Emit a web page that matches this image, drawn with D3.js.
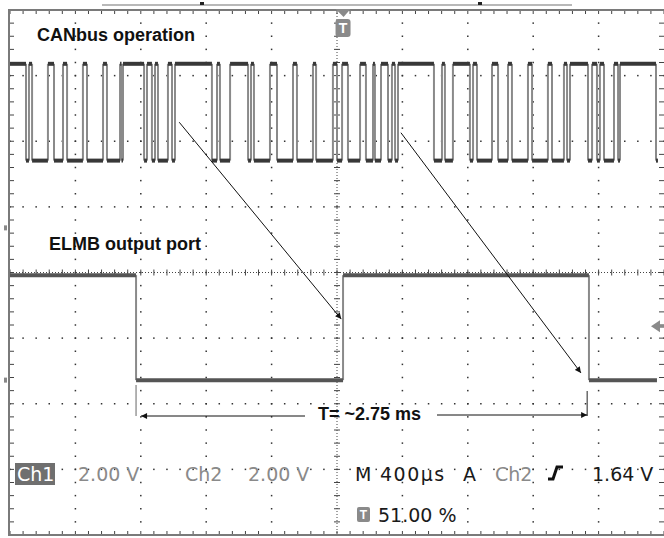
<!DOCTYPE html>
<html>
<head>
<meta charset="utf-8">
<script src="https://cdn.jsdelivr.net/npm/d3@7/dist/d3.min.js"></script>
<style>
  body { margin: 0; background: #fff; }
  svg { display: block; }
</style>
</head>
<body>
<script>
// scope settings: 400 us/div over 10 divisions, 8 vertical divisions
var timeTicks = d3.range(0, 4001, 400);
var divTicks = d3.range(-4, 5, 1);
var voltsPerDiv = 2.0;
var ch1Ground = 0.68;   // divisions above centre
var ch2Ground = -1.64;
var trigTime = 2040;    // 51 % of record
var trigLevel = 1.64;   // volts on Ch2

// Ch1 : CANbus, transition times in us (starts high)
var canEdges = [98, 116, 135, 232, 269, 324, 349, 446, 471, 569, 593, 673, 682, 691,
  820, 838, 868, 887, 905, 966, 991, 1009, 1235, 1266, 1284, 1346, 1456, 1474, 1492,
  1590, 1633, 1731, 1755, 1853, 1872, 1975, 2000, 2031, 2067, 2141, 2177, 2220, 2232,
  2269, 2312, 2336, 2355, 2373, 2593, 2642, 2660, 2709, 2813, 2832, 2856, 2948, 2985,
  3046, 3070, 3168, 3193, 3290, 3315, 3388, 3407, 3425, 3535, 3560, 3590, 3608, 3633,
  3694, 3719, 3731, 3951];
var canLevels = [5.0, 2.05];   // high, low (V)
var canSpan = [0, 3963];

// Ch2 : ELMB output port (starts high)
var elmbEdges = [771, 2037, 3541];
var elmbLevels = [3.2, 0];
var elmbSpan = [0, 3957];

// period measurement
var measureTimes = [771, 3530];
var measureLabel = "T= ~2.75 ms";

var width = 664, height = 538;

var x = d3.scaleLinear().domain([0, 4000]).range([10, 664]);
var y = d3.scaleLinear().domain([-4, 4]).range([535, 10]);

function yCh(v, ground) { return y(ground + v / voltsPerDiv); }

function stepTrace(edges, span, levels) {
  var pts = [span[0]].concat(edges, [span[1]]);
  var flats = [], risers = [];
  var high = true;
  for (var i = 0; i < pts.length - 1; i++) {
    flats.push({a: pts[i], b: pts[i + 1], v: high ? levels[0] : levels[1]});
    if (i < edges.length) { risers.push(pts[i + 1]); high = !high; }
  }
  return {flats: flats, risers: risers};
}

var svg = d3.select("body").append("svg")
    .attr("width", width)
    .attr("height", height);

// ---- graticule ----
var minorX = d3.range(0, 4001, 80);
var minorY = d3.range(-4, 4.001, 0.2);
var grid = svg.append("g").attr("class", "grid");

timeTicks.filter(function(t) { return t > 0 && t < 4000 && t != 2000; }).forEach(function(t) {
  grid.selectAll(null).data(minorY).enter().append("rect")
      .attr("x", x(t) - 0.75).attr("y", function(d) { return y(d) - 0.75; })
      .attr("width", 1.5).attr("height", 1.5).attr("fill", "#333");
});
divTicks.filter(function(d) { return d > -4 && d < 4 && d != 0; }).forEach(function(dv) {
  grid.selectAll(null).data(minorX).enter().append("rect")
      .attr("x", function(d) { return x(d) - 0.75; }).attr("y", y(dv) - 0.75)
      .attr("width", 1.5).attr("height", 1.5).attr("fill", "#333");
});

// centre cross with ticks
grid.append("line").attr("x1", x(0)).attr("x2", x(4000)).attr("y1", y(0)).attr("y2", y(0))
    .attr("stroke", "#444").attr("stroke-dasharray", "1,2");
grid.append("line").attr("x1", x(2000)).attr("x2", x(2000)).attr("y1", y(4)).attr("y2", y(-4))
    .attr("stroke", "#444").attr("stroke-dasharray", "1,2");
grid.selectAll(null).data(minorX).enter().append("line")
    .attr("x1", function(d) { return x(d); }).attr("x2", function(d) { return x(d); })
    .attr("y1", y(0) - 3).attr("y2", y(0) + 3)
    .attr("stroke", "#444");
grid.selectAll(null).data(minorY).enter().append("line")
    .attr("x1", x(2000) - 3).attr("x2", x(2000) + 3)
    .attr("y1", function(d) { return y(d); }).attr("y2", function(d) { return y(d); })
    .attr("stroke", "#444");

// border ticks
grid.selectAll(null).data(minorX).enter().append("line")
    .attr("x1", function(d) { return x(d); }).attr("x2", function(d) { return x(d); })
    .attr("y1", y(4)).attr("y2", y(4) + 4).attr("stroke", "#444");
grid.selectAll(null).data(minorX).enter().append("line")
    .attr("x1", function(d) { return x(d); }).attr("x2", function(d) { return x(d); })
    .attr("y1", y(-4)).attr("y2", y(-4) - 4).attr("stroke", "#444");
grid.selectAll(null).data(minorY).enter().append("line")
    .attr("x1", x(0)).attr("x2", x(0) + 4)
    .attr("y1", function(d) { return y(d); }).attr("y2", function(d) { return y(d); })
    .attr("stroke", "#444");
grid.selectAll(null).data(minorY).enter().append("line")
    .attr("x1", width - 5).attr("x2", width)
    .attr("y1", function(d) { return y(d); }).attr("y2", function(d) { return y(d); })
    .attr("stroke", "#444");

// frame (left, top, bottom)
grid.append("path")
    .attr("d", "M" + (width) + "," + y(4) + "H" + (x(0) - 1) + "V" + y(-4) + "H" + width)
    .attr("fill", "none").attr("stroke", "#7a7a7a").attr("stroke-width", 2);

// record bar on top
svg.append("line").attr("x1", 102).attr("x2", 572).attr("y1", 5).attr("y2", 5)
    .attr("stroke", "#a0a0a0").attr("stroke-width", 1.5);
svg.append("rect").attr("x", 200).attr("y", 2).attr("width", 4).attr("height", 3).attr("fill", "#222");
svg.append("rect").attr("x", 478).attr("y", 2).attr("width", 4).attr("height", 3).attr("fill", "#222");

// ---- traces ----
function drawTrace(data, ground, levels, flatColor) {
  var g = svg.append("g");
  g.selectAll(".riser").data(data.risers).enter().append("line")
      .attr("x1", function(d) { return x(d); }).attr("x2", function(d) { return x(d); })
      .attr("y1", yCh(levels[0], ground))
      .attr("y2", yCh(levels[1], ground))
      .attr("stroke", "#8a8a8a").attr("stroke-width", 2);
  g.selectAll(".flat").data(data.flats).enter().append("line")
      .attr("x1", function(d) { return x(d.a); }).attr("x2", function(d) { return x(d.b); })
      .attr("y1", function(d) { return yCh(d.v, ground); })
      .attr("y2", function(d) { return yCh(d.v, ground); })
      .attr("stroke", flatColor).attr("stroke-width", 4);
  return g;
}

drawTrace(stepTrace(canEdges, canSpan, canLevels), ch1Ground, canLevels, "#383838");
drawTrace(stepTrace(elmbEdges, elmbSpan, elmbLevels), ch2Ground, elmbLevels, "#555");

// ground markers at left
[ch1Ground, ch2Ground].forEach(function(gd) {
  svg.append("rect").attr("x", 4).attr("y", y(gd) - 2.5).attr("width", 3).attr("height", 5).attr("fill", "#888");
});

// trigger level marker at right
var ty = yCh(trigLevel, ch2Ground);
svg.append("path")
    .attr("d", "M651," + ty + "L660," + (ty - 6) + "L660," + (ty + 6) + "Z")
    .attr("fill", "#8a8a8a");
svg.append("rect").attr("x", 658).attr("y", ty - 1.5).attr("width", 6).attr("height", 3).attr("fill", "#8a8a8a");

// trigger position marker at top
var tx = x(trigTime);
svg.append("path")
    .attr("d", "M" + (tx - 8) + ",9L" + (tx + 7) + ",9L" + tx + ",17Z")
    .attr("fill", "#8a8a8a");
svg.append("rect").attr("x", tx - 8).attr("y", 19).attr("width", 15).attr("height", 18).attr("rx", 3)
    .attr("fill", "#8a8a8a");
svg.append("text").attr("x", tx - 0.5).attr("y", 33).attr("text-anchor", "middle")
    .attr("font-family", "Liberation Sans, Arial").attr("font-weight", "bold").attr("font-size", 14)
    .attr("fill", "#fff").text("T");

// ---- annotations ----
var defs = svg.append("defs");
defs.append("marker").attr("id", "ah").attr("viewBox", "0 0 10 10").attr("refX", 10).attr("refY", 5)
    .attr("markerWidth", 8).attr("markerHeight", 6).attr("orient", "auto")
    .attr("markerUnits", "userSpaceOnUse")
  .append("path").attr("d", "M0,0L10,5L0,10Z").attr("fill", "#111");

var arrows = [
  {t0: 1035, d0: 2.29, t1: 2026, d1: -0.71},
  {t0: 2391, d0: 2.13, t1: 3492, d1: -1.53}
];
svg.selectAll(".ann").data(arrows).enter().append("line")
    .attr("x1", function(d) { return x(d.t0); }).attr("y1", function(d) { return y(d.d0); })
    .attr("x2", function(d) { return x(d.t1); }).attr("y2", function(d) { return y(d.d1); })
    .attr("stroke", "#111").attr("stroke-width", 1).attr("marker-end", "url(#ah)");

// measurement bracket
var my = 416;
svg.append("line").attr("x1", x(measureTimes[0])).attr("x2", x(measureTimes[0]))
    .attr("y1", 385).attr("y2", my).attr("stroke", "#999").attr("stroke-width", 1.5);
svg.append("line").attr("x1", x(measureTimes[1])).attr("x2", x(measureTimes[1]))
    .attr("y1", 391).attr("y2", my).attr("stroke", "#222").attr("stroke-width", 1);
svg.append("line").attr("x1", 305).attr("x2", x(measureTimes[0]) + 5)
    .attr("y1", my).attr("y2", my).attr("stroke", "#111").attr("marker-end", "url(#ah)");
svg.append("line").attr("x1", 437).attr("x2", x(measureTimes[1]))
    .attr("y1", my - 1).attr("y2", my - 1).attr("stroke", "#111").attr("marker-end", "url(#ah)");

var bold = "Liberation Sans, Arial, sans-serif";
svg.append("text").attr("x", 318).attr("y", 420)
    .attr("font-family", bold).attr("font-weight", "bold").attr("font-size", 18)
    .attr("fill", "#111").text(measureLabel);
svg.append("text").attr("x", 37).attr("y", 41)
    .attr("font-family", bold).attr("font-weight", "bold").attr("font-size", 18)
    .attr("fill", "#111").text("CANbus operation");
svg.append("text").attr("x", 49).attr("y", 250)
    .attr("font-family", bold).attr("font-weight", "bold").attr("font-size", 18)
    .attr("fill", "#111").text("ELMB output port");

// ---- status readout ----
var mono = "DejaVu Sans, sans-serif";
var readout = [
  {x: 17, y: 481, s: "Ch1", c: "#fff"},
  {x: 78, y: 481, s: "2.00 V", c: "#8a8a8a"},
  {x: 185, y: 481, s: "Ch2", c: "#8a8a8a"},
  {x: 248, y: 481, s: "2.00 V", c: "#8a8a8a"},
  {x: 355, y: 481, s: "M", c: "#1a1a1a"},
  {x: 380, y: 481, s: "400\u00b5s", c: "#1a1a1a", ls: 1.5},
  {x: 463, y: 481, s: "A", c: "#1a1a1a"},
  {x: 495, y: 481, s: "Ch2", c: "#8a8a8a"},
  {x: 592, y: 481, s: "1.64 V", c: "#1a1a1a"},
  {x: 378, y: 522, s: "51.00 %", c: "#1a1a1a"}
];
svg.append("rect").attr("x", 15).attr("y", 463).attr("width", 40).attr("height", 22).attr("fill", "#6f6f6f");
svg.selectAll(".ro").data(readout).enter().append("text")
    .attr("x", function(d) { return d.x; }).attr("y", function(d) { return d.y; })
    .attr("font-family", mono).attr("font-size", 19)
    .attr("letter-spacing", function(d) { return d.ls || 0; })
    .attr("fill", function(d) { return d.c; })
    .text(function(d) { return d.s; });

// rising slope symbol
svg.append("path").attr("d", "M548,479H553L557,467H563")
    .attr("fill", "none").attr("stroke", "#111").attr("stroke-width", 3);

// trigger icon in readout
svg.append("rect").attr("x", 357).attr("y", 507).attr("width", 13).attr("height", 15).attr("rx", 2)
    .attr("fill", "#8a8a8a");
svg.append("text").attr("x", 363.5).attr("y", 519).attr("text-anchor", "middle")
    .attr("font-family", bold).attr("font-weight", "bold").attr("font-size", 12)
    .attr("fill", "#fff").text("T");
</script>
</body>
</html>
